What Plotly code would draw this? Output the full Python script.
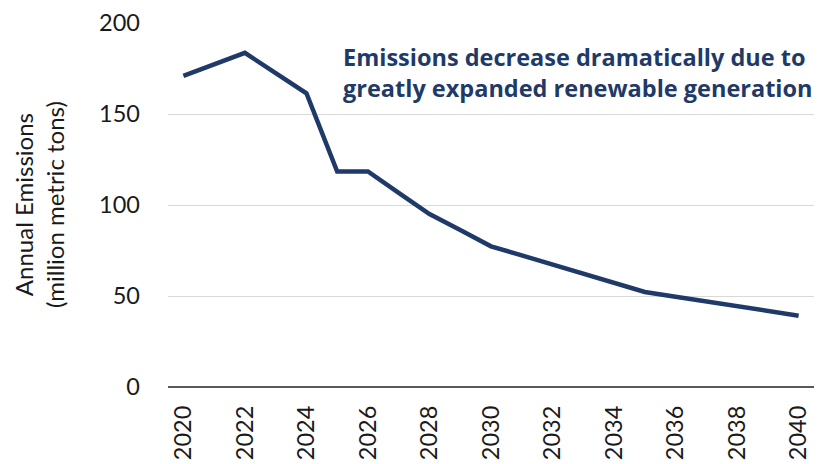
import plotly.graph_objects as go

# Annual emissions, million metric tons
years = list(range(2020, 2041))
emissions = [171, 177.3, 183.6, 172.5, 161.4, 118.4, 118.4, 106.7, 95.0, 86.2,
             77.3, 72.3, 67.3, 62.2, 57.2, 52.2, 49.6, 47.1, 44.4, 41.8, 39.2]

tick_years = list(range(2020, 2041, 2))
y_ticks = [0, 50, 100, 150, 200]

navy = "#1F3A68"
font_family = "Lato, 'Noto Sans', sans-serif"

W, H = 822, 464
L, R, T, B = 168, 8, 23, 76.5
plot_w = W - L - R
plot_h = H - T - B

fig = go.Figure()
fig.add_trace(go.Scatter(
    x=years, y=emissions, mode="lines",
    line=dict(color=navy, width=4.5),
    hoverinfo="x+y", showlegend=False,
))

fig.update_layout(
    width=W, height=H,
    margin=dict(l=L, r=R, t=T, b=B, autoexpand=False),
    paper_bgcolor="white", plot_bgcolor="white",
    font=dict(family=font_family, size=23, color="#1a1a1a"),
    xaxis=dict(
        range=[2019.5, 2040.5], tickmode="array", tickvals=tick_years,
        ticktext=[str(y) for y in tick_years], tickangle=-90,
        showgrid=False, zeroline=False, showline=False,
        ticks="", ticklabelstandoff=13, automargin=False,
        tickfont=dict(size=23.5),
    ),
    yaxis=dict(
        range=[0, 200], tickmode="array", tickvals=y_ticks,
        showgrid=True, gridcolor="#D9D9D9", gridwidth=1,
        zeroline=True, zerolinecolor="#595959", zerolinewidth=2,
        showline=False, ticks="", ticklabelstandoff=27, automargin=False,
        tickfont=dict(size=23.5),
    ),
)

# Two-line y-axis title
fig.add_annotation(
    xref="paper", yref="paper",
    x=-(L - 39) / plot_w, y=0.5,
    text="Annual Emissions<br>(million metric tons)",
    textangle=-90, showarrow=False,
    xanchor="center", yanchor="middle",
    font=dict(size=24, color="#1a1a1a"),
)

# Callout text
fig.add_annotation(
    xref="paper", yref="paper",
    x=(341 - L) / plot_w, y=1 - (39 - T) / plot_h,
    text="<b>Emissions decrease dramatically due to<br>greatly expanded renewable generation</b>",
    showarrow=False, xanchor="left", yanchor="top", align="left",
    font=dict(family="'Open Sans', 'Noto Sans', sans-serif", size=23.5, color=navy),
)

fig.write_html("out.html")
